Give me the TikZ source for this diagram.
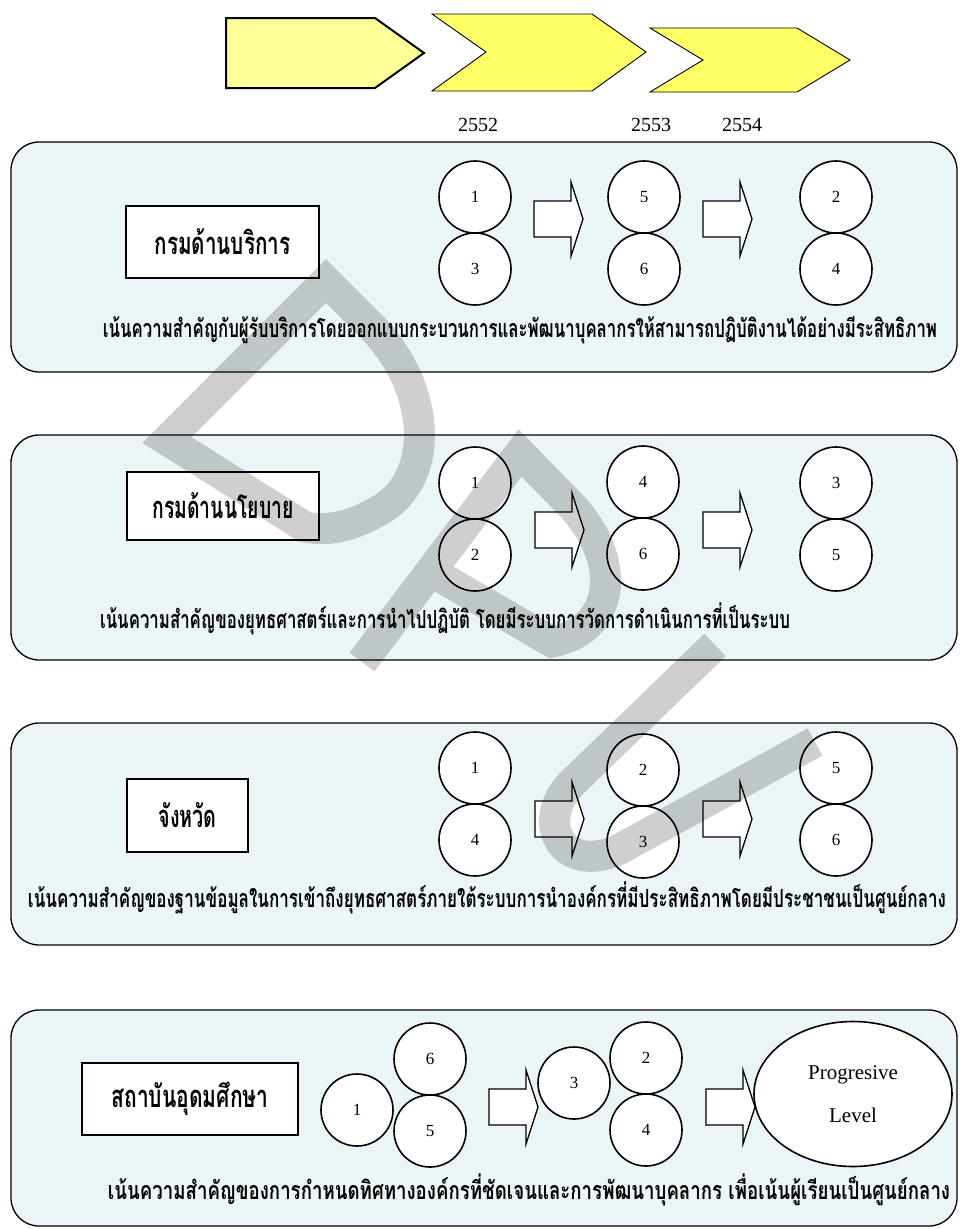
\documentclass[tikz,border=0pt]{standalone}
\usepackage{graphicx}
\usepackage{fontspec}
\setmainfont{Liberation Serif}
\newfontfamily\thaifont[Script=Thai]{Loma}
\usetikzlibrary{shapes.geometric}
\definecolor{panelfill}{RGB}{235,244,246}
\definecolor{chevlight}{RGB}{255,255,153}
\definecolor{chevyellow}{RGB}{255,255,102}
% Thai line in bold, squeezed horizontally to a given width
\newcommand{\thfit}[3]{\resizebox{#1}{\height}{\fontsize{#2}{#2}\selectfont\thaifont\bfseries #3}}

\begin{document}
\begin{tikzpicture}[x=1pt,y=-1pt,
  panel/.style={draw=black, line width=1.3pt, fill=panelfill, rounded corners=28pt, inner sep=0pt},
  labelbox/.style={draw=black, line width=2pt, fill=white, inner sep=0pt},
  ball/.style={circle, draw=black, line width=1.6pt, fill=white, minimum size=72pt, inner sep=0pt,
               font=\fontsize{17pt}{20pt}\selectfont},
  oval/.style={ellipse, draw=black, line width=1.6pt, fill=white, minimum width=198pt, minimum height=145pt,
               inner sep=0pt, align=center, font=\fontsize{21pt}{43pt}\selectfont},
  arrowline/.style={draw=black, line width=1.3pt, fill=white, line join=miter},
  blockarrow/.pic={\draw[arrowline] (0,-18) -- (37,-18) -- (37,-37) -- (49,0) -- (37,37) -- (37,18) -- (0,18) -- cycle;},
  txt/.style={inner sep=0pt},
  year/.style={inner sep=0pt, font=\fontsize{20pt}{24pt}\selectfont},
  chevronA/.style={draw=black, line width=2pt, fill=chevlight, line join=miter},
  chevronB/.style={draw=black, line width=0.9pt, fill=chevyellow, line join=miter},
  watermark/.style={draw=black, draw opacity=0.19, line width=31pt, line join=miter}
]
\useasboundingbox (0,0) rectangle (960,1229);
\fill[white] (0,0) rectangle (960,1229);

% ---- timeline chevrons ----
\draw[chevronA] (226,18) -- (375,18) -- (424,53) -- (375,88) -- (226,88) -- cycle;
\draw[chevronB] (432,14) -- (592,14) -- (646,52) -- (592,91) -- (432,91) -- (486,52) -- cycle;
\draw[chevronB] (650,28) -- (797,28) -- (850,60) -- (797,92) -- (650,92) -- (703,60) -- cycle;
\node[year] (y2552) at (478,125) {2552};
\node[year] (y2553) at (651,125) {2553};
\node[year] (y2554) at (742,125) {2554};

% ---- panels ----
\node[panel, minimum width=946pt, minimum height=230pt] (panel1) at (484,257) {};
\node[panel, minimum width=946pt, minimum height=225pt] (panel2) at (484,547.5) {};
\node[panel, minimum width=946pt, minimum height=222pt] (panel3) at (484,834) {};
\node[panel, minimum width=946pt, minimum height=216pt] (panel4) at (484,1118) {};

% ---- panel 1 ----
\node[labelbox, minimum width=193pt, minimum height=72pt] (lab1) at (222.5,242) {\thfit{136pt}{31pt}{กรมด้านบริการ}};
\node[ball] (a1) at (475,197) {1};
\node[ball] (a3) at (475,269) {3};
\node[ball] (a5) at (644,197) {5};
\node[ball] (a6) at (644,269) {6};
\node[ball] (a2) at (836,197) {2};
\node[ball] (a4) at (836,269) {4};
\pic (arrA1) at (534,219) {blockarrow};
\pic (arrA2) at (703,219) {blockarrow};
\node[txt] (desc1) at (520,330) {\thfit{834pt}{25pt}{เน้นความสำคัญกับผู้รับบริการโดยออกแบบกระบวนการและพัฒนาบุคลากรให้สามารถปฏิบัติงานได้อย่างมีระสิทธิภาพ}};

% ---- panel 2 ----
\node[labelbox, minimum width=192pt, minimum height=68pt] (lab2) at (223,506) {\thfit{141pt}{31pt}{กรมด้านนโยบาย}};
\node[ball] (b1) at (475,483) {1};
\node[ball] (b2) at (475,555) {2};
\node[ball] (b4) at (643,482) {4};
\node[ball] (b6) at (643,554) {6};
\node[ball] (b3) at (836,483) {3};
\node[ball] (b5) at (836,555) {5};
\pic (arrB1) at (535,530) {blockarrow};
\pic (arrB2) at (703,530) {blockarrow};
\node[txt] (desc2) at (445,619) {\thfit{690pt}{25pt}{เน้นความสำคัญของยุทธศาสตร์และการนำไปปฏิบัติ โดยมีระบบการวัดการดำเนินการที่เป็นระบบ}};

% ---- panel 3 ----
\node[labelbox, minimum width=121pt, minimum height=73pt] (lab3) at (187.5,815.5) {\thfit{58pt}{31pt}{จังหวัด}};
\node[ball] (c1) at (475,768) {1};
\node[ball] (c4) at (475,840) {4};
\node[ball] (c2) at (643,770) {2};
\node[ball] (c3) at (643,842) {3};
\node[ball] (c5) at (836,768) {5};
\node[ball] (c6) at (836,840) {6};
\pic (arrC1) at (535,819) {blockarrow};
\pic (arrC2) at (703,819) {blockarrow};
\node[txt] (desc3) at (487,898) {\thfit{918pt}{25pt}{เน้นความสำคัญของฐานข้อมูลในการเข้าถึงยุทธศาสตร์ภายใต้ระบบการนำองค์กรที่มีประสิทธิภาพโดยมีประชาชนเป็นศูนย์กลาง}};

% ---- panel 4 ----
\node[labelbox, minimum width=216pt, minimum height=72pt] (lab4) at (190,1099) {\thfit{157pt}{31pt}{สถาบันอุดมศึกษา}};
\node[ball] (d1) at (357,1110) {1};
\node[ball] (d6) at (430,1059) {6};
\node[ball] (d5) at (430,1131) {5};
\node[ball] (d3) at (574,1083) {3};
\node[ball] (d2) at (646,1058) {2};
\node[ball] (d4) at (646,1130) {4};
\pic (arrD1) at (489,1107) {blockarrow};
\pic (arrD2) at (706,1107) {blockarrow};
\node[oval] (level) at (853,1094) {Progresive\\Level};
\node[txt] (desc4) at (529,1190) {\thfit{842pt}{25pt}{เน้นความสำคัญของการกำหนดทิศทางองค์กรที่ชัดเจนและการพัฒนาบุคลากร เพื่อเน้นผู้เรียนเป็นศูนย์กลาง}};

% ---- DPU watermark ----
\draw[watermark] (167,440) -- (326,281) -- (370,325)
  .. controls (432,387) and (436,478) .. (380,510)
  .. controls (355,525) and (330,532) .. (305,527) -- cycle;
\draw[watermark] (362,662) -- (520,453) -- (568,502)
  .. controls (625,560) and (615,630) .. (552,642) -- (432,572);
\draw[watermark] (715,645) -- (572,783)
  .. controls (535,820) and (560,875) .. (618,850) -- (815,742);
\end{tikzpicture}
\end{document}
